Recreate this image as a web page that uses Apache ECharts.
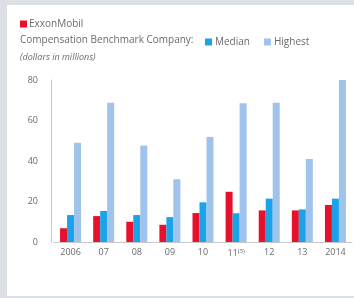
<!DOCTYPE html>
<html>
<head>
<meta charset="utf-8">
<script src="https://cdn.jsdelivr.net/npm/echarts@6/dist/echarts.min.js"></script>
<style>
  html, body { margin: 0; padding: 0; background: #dcdfe3; }
  #chart { position: absolute; left: 7px; top: 5px; width: 347px; height: 291px; background: #fff; }
</style>
</head>
<body>
<div id="chart"></div>
<script>
const years = ['2006', '07', '08', '09', '10', '11', '12', '13', '2014']
const exxon = [6.8, 12.8, 10, 8.5, 14.3, 24.8, 15.6, 15.6, 18.3]
const median = [13.3, 15.3, 13.3, 12.3, 19.6, 14.2, 21.4, 16.1, 21.4]
const highest = [49, 68.8, 47.6, 31, 51.9, 68.5, 68.8, 41, 81.1]

const font = 'Open Sans'
const textColor = '#6a6a6a'

const chart = echarts.init(document.getElementById('chart'))
chart.setOption({
  backgroundColor: '#fff',
  animation: false,
  textStyle: { fontFamily: font },
  title: [
    {
      text: 'Compensation Benchmark Company:',
      left: 13, top: 30, padding: 0,
      textStyle: { fontSize: 10, fontWeight: 'normal', color: textColor, fontFamily: font },
    },
    {
      text: '(dollars in millions)',
      left: 13, top: 48, padding: 0,
      textStyle: { fontSize: 9, fontWeight: 'normal', fontStyle: 'italic', color: textColor, fontFamily: font },
    },
  ],
  legend: [
    {
      data: ['ExxonMobil'],
      left: 8, top: 9,
      itemWidth: 7, itemHeight: 7, itemGap: 8,
      icon: 'rect',
      textStyle: { fontSize: 10, color: textColor, fontFamily: font, padding: [0, 0, 0, -3] },
    },
    {
      data: ['Median', 'Highest'],
      left: 193, top: 27,
      itemWidth: 7, itemHeight: 7, itemGap: 14,
      icon: 'rect',
      textStyle: { fontSize: 10, color: textColor, fontFamily: font, padding: [0, 0, 0, -2] },
    },
  ],
  grid: { left: 47, right: 2, top: 75, bottom: 54 },
  xAxis: {
    type: 'category',
    data: years,
    axisLine: { lineStyle: { color: '#c8c8c8' } },
    axisTick: { show: false },
    axisLabel: {
      interval: 0,
      color: textColor, fontSize: 9, margin: 6,
      formatter: (v) => (v === '11' ? '{a|11}{s|(3)}' : v),
      rich: {
        a: { fontSize: 9, color: textColor, fontFamily: font },
        s: { fontSize: 6, color: textColor, fontFamily: font, verticalAlign: 'top', padding: [0, 0, 5, 0] },
      },
    },
  },
  yAxis: {
    type: 'value',
    min: 0, max: 80, interval: 20,
    offset: 3,
    axisLine: { show: true, lineStyle: { color: '#c8c8c8' } },
    axisTick: { show: false },
    splitLine: { show: false },
    axisLabel: { color: textColor, fontSize: 9, margin: 13 },
  },
  series: [
    { name: 'ExxonMobil', type: 'bar', data: exxon, barWidth: 7, barGap: '0%', itemStyle: { color: '#e8112d' } },
    { name: 'Median', type: 'bar', data: median, barWidth: 7, barGap: '0%', itemStyle: { color: '#1aa3e8' } },
    { name: 'Highest', type: 'bar', data: highest, barWidth: 7, barGap: '0%', itemStyle: { color: '#9fc3ea' } },
  ],
})
</script>
</body>
</html>
